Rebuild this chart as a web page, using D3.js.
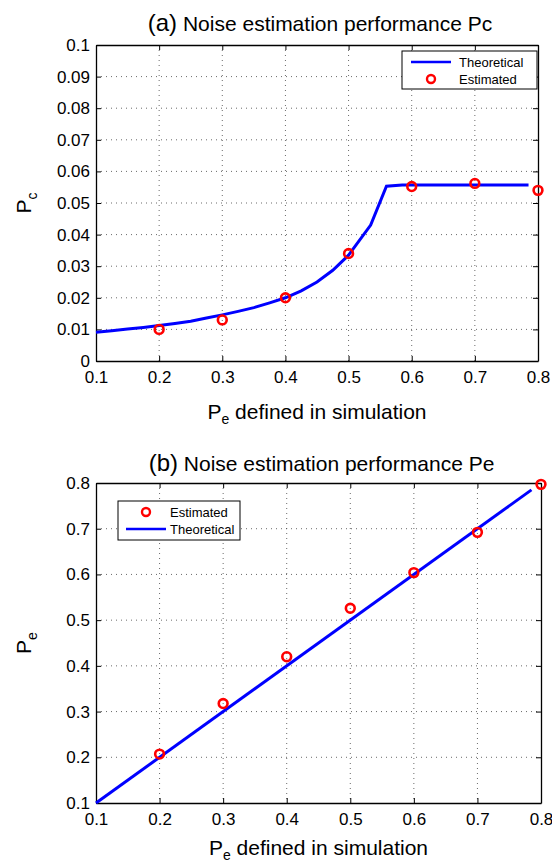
<!DOCTYPE html>
<html>
<head>
<meta charset="utf-8">
<script src="https://cdn.jsdelivr.net/npm/d3@7"></script>
<style>
  body { margin: 0; background: #fff; }
  svg { display: block; font-family: "Liberation Sans", Arial, Helvetica, sans-serif; }
</style>
</head>
<body>
<svg id="chart" width="552" height="866"></svg>
<script>
// ---- data ----
const xTicks = [0.1, 0.2, 0.3, 0.4, 0.5, 0.6, 0.7, 0.8]
const estX = [0.2, 0.3, 0.4, 0.5, 0.6, 0.7, 0.8]

// (a) Pc
const pcTicks = [0, 0.01, 0.02, 0.03, 0.04, 0.05, 0.06, 0.07, 0.08, 0.09, 0.1]
const pcTheoryX = [0.1, 0.125, 0.15, 0.175, 0.2, 0.225, 0.25, 0.275, 0.3, 0.325, 0.35, 0.375, 0.4, 0.425, 0.45, 0.475, 0.5, 0.535, 0.56, 0.585, 0.785]
const pcTheoryY = [0.0091, 0.0096, 0.0101, 0.0106, 0.0112, 0.0119, 0.0126, 0.0136, 0.0146, 0.0157, 0.0169, 0.0184, 0.0200, 0.0222, 0.0250, 0.0287, 0.0335, 0.0430, 0.0553, 0.0557, 0.0557]
const pcEst = [0.010, 0.013, 0.020, 0.034, 0.0552, 0.0562, 0.054]

// (b) Pe
const peTicks = [0.1, 0.2, 0.3, 0.4, 0.5, 0.6, 0.7, 0.8]
const peTheoryX = [0.1, 0.785]
const peTheoryY = [0.1, 0.785]
const peEst = [0.207, 0.3175, 0.420, 0.526, 0.604, 0.692, 0.797]

const svg = d3.select('#chart')
const blue = '#0000ff', red = '#ff0000'

const draw_panel = (p) => {
    const x = d3.scaleLinear().domain([0.1, 0.8]).range([p.left, p.right])
    const y = d3.scaleLinear().domain(p.ydomain).range([p.bottom, p.top])
    const g = svg.append('g')

    /* 网格 dotted */
    g.selectAll('.gx').data(xTicks.slice(1, -1)).join('line')
        .attr('x1', d => x(d)).attr('x2', d => x(d))
        .attr('y1', p.top).attr('y2', p.bottom)
        .attr('stroke', '#444').attr('stroke-width', 0.8).attr('stroke-dasharray', '1,4')
    g.selectAll('.gy').data(p.yticks.slice(1, -1)).join('line')
        .attr('y1', d => y(d)).attr('y2', d => y(d))
        .attr('x1', p.left).attr('x2', p.right)
        .attr('stroke', '#444').attr('stroke-width', 0.8).attr('stroke-dasharray', '1,4')

    /* 四边的轴 (ticks inward) */
    const fmt = d => String(d)
    g.append('g').attr('transform', `translate(0,${p.bottom})`)
        .call(d3.axisBottom(x).tickValues(xTicks).tickSizeInner(-5).tickSizeOuter(0).tickPadding(10).tickFormat(fmt))
    g.append('g').attr('transform', `translate(0,${p.top})`)
        .call(d3.axisTop(x).tickValues(xTicks).tickSizeInner(-5).tickSizeOuter(0).tickFormat(''))
    g.append('g').attr('transform', `translate(${p.left},0)`)
        .call(d3.axisLeft(y).tickValues(p.yticks).tickSizeInner(-5).tickSizeOuter(0).tickPadding(6).tickFormat(fmt))
    g.append('g').attr('transform', `translate(${p.right},0)`)
        .call(d3.axisRight(y).tickValues(p.yticks).tickSizeInner(-5).tickSizeOuter(0).tickFormat(''))
    g.selectAll('.domain').attr('stroke', '#000').attr('stroke-width', 1.3)
    g.selectAll('.tick line').attr('stroke', '#000')
    g.selectAll('.tick text').attr('fill', '#000').style('font-size', '17px')
        .style('font-family', '"Liberation Sans", Arial, sans-serif')

    /* theoretical line */
    const pts = p.tx.map((d, i) => [d, p.ty[i]])
    g.append('path').datum(pts)
        .attr('d', d3.line().x(d => x(d[0])).y(d => y(d[1])))
        .attr('fill', 'none').attr('stroke', blue).attr('stroke-width', 3)

    /* estimated circles */
    g.selectAll('.est').data(estX.map((d, i) => [d, p.est[i]])).join('circle')
        .attr('cx', d => x(d[0])).attr('cy', d => y(d[1])).attr('r', 4.4)
        .attr('fill', 'none').attr('stroke', red).attr('stroke-width', 2.6)

    /* title */
    const t = g.append('text').attr('x', (p.left + p.right) / 2 + 3).attr('y', p.titleY)
        .attr('text-anchor', 'middle').attr('fill', '#000')
    t.append('tspan').style('font-size', '24px').text(p.tag)
    t.append('tspan').style('font-size', '21px').text(' Noise estimation performance ' + p.tname)

    /* x label */
    const xl = g.append('text').attr('x', (p.left + p.right) / 2).attr('y', p.xlabelY)
        .attr('text-anchor', 'middle').style('font-size', '21px').attr('fill', '#000')
    xl.append('tspan').text('P')
    xl.append('tspan').attr('dy', 5).style('font-size', '14px').text('e')
    xl.append('tspan').attr('dy', -5).text(' defined in simulation')

    /* y label */
    const yl = g.append('text').attr('transform', `translate(${p.ylabelX},${(p.top + p.bottom) / 2}) rotate(-90)`)
        .attr('text-anchor', 'middle').style('font-size', '21px').attr('fill', '#000')
    yl.append('tspan').text('P')
    yl.append('tspan').attr('dy', 6).style('font-size', '14px').text(p.ysub)

    /* legend */
    const L = p.legend
    const lg = g.append('g')
    lg.append('rect').attr('x', L.x).attr('y', L.y).attr('width', L.w).attr('height', L.h)
        .attr('fill', '#fff').attr('stroke', '#000').attr('stroke-width', 1)
    L.items.forEach((it, i) => {
        const cy = L.y + 11 + i * 17
        if (it === 'Theoretical') {
            lg.append('line').attr('x1', L.x + L.sx).attr('x2', L.x + L.sx + 40)
                .attr('y1', cy).attr('y2', cy).attr('stroke', blue).attr('stroke-width', 2.6)
        } else {
            lg.append('circle').attr('cx', L.x + L.sx + 20).attr('cy', cy).attr('r', 4)
                .attr('fill', 'none').attr('stroke', red).attr('stroke-width', 2.4)
        }
        lg.append('text').attr('x', L.x + L.tx).attr('y', cy + 4.5)
            .style('font-size', '13px').attr('fill', '#000').text(it)
    })
}

draw_panel({
    left: 96, right: 538, top: 45, bottom: 361,
    ydomain: [0, 0.1], yticks: pcTicks,
    tx: pcTheoryX, ty: pcTheoryY, est: pcEst,
    tag: '(a)', tname: 'Pc', ysub: 'c',
    titleY: 31, xlabelY: 419, ylabelX: 31,
    legend: { x: 402, y: 51, w: 135, h: 38, sx: 9, tx: 57, items: ['Theoretical', 'Estimated'] }
})

draw_panel({
    left: 96, right: 541, top: 483, bottom: 803,
    ydomain: [0.1, 0.8], yticks: peTicks,
    tx: peTheoryX, ty: peTheoryY, est: peEst,
    tag: '(b)', tname: 'Pe', ysub: 'e',
    titleY: 471, xlabelY: 855, ylabelX: 31,
    legend: { x: 118, y: 501, w: 122, h: 39, sx: 8, tx: 52, items: ['Estimated', 'Theoretical'] }
})
</script>
</body>
</html>
